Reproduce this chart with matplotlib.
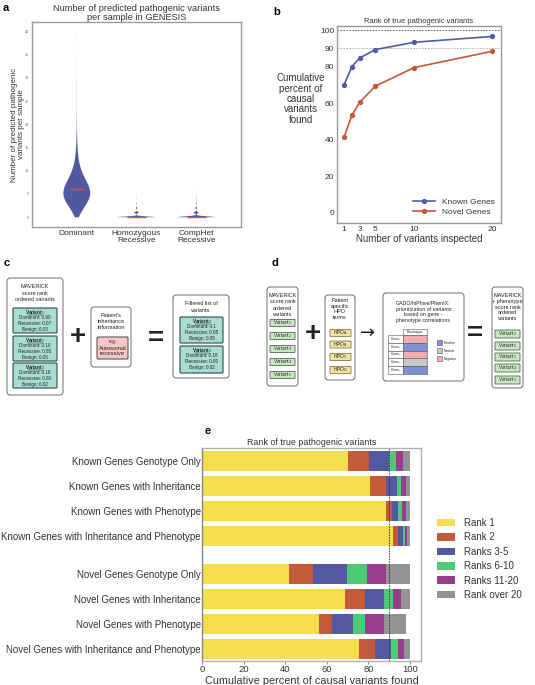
"""
Five-panel figure: violin of variant counts, cumulative rank curves,
two workflow diagrams and a stacked bar of rank categories.
"""

import numpy as np
import matplotlib
matplotlib.use("Agg")
import matplotlib.pyplot as plt
from matplotlib.patches import FancyBboxPatch, Rectangle

plt.rcParams["font.family"] = ["Liberation Sans", "DejaVu Sans"]
plt.rcParams["mathtext.fontset"] = "dejavusans"

TXT = "#333333"
FRAME = "#9a9a9a"

# ---- panel a data: samples per number of predicted pathogenic variants
violin_groups = ["Dominant", "Homozygous\nRecessive", "CompHet\nRecessive"]
dominant_counts = [35, 85, 160, 245, 310, 345, 325, 270, 210, 150, 105, 70, 48,
                   33, 23, 16, 11, 8, 6, 4, 3, 2, 2, 1, 1, 1, 1, 1, 1, 1, 1, 1,
                   0, 1, 0, 1, 0, 0, 1, 0, 1]
homozygous_counts = [2300, 260, 70, 30, 14, 7, 4, 2]
comphet_counts = [2300, 280, 80, 35, 18, 9, 5, 3, 2, 1, 1]

# ---- panel b data
inspected = [1, 2, 3, 5, 10, 20]
known_cum = [70.0, 80.0, 84.7, 89.3, 93.3, 96.5]
novel_cum = [41.3, 53.3, 60.5, 69.3, 79.5, 88.4]

# ---- panel e data (percent of causal variants per rank bin)
scenarios = ["Known Genes Genotype Only",
             "Known Genes with Inheritance",
             "Known Genes with Phenotype",
             "Known Genes with Inheritance and Phenotype",
             "Novel Genes Genotype Only",
             "Novel Genes with Inheritance",
             "Novel Genes with Phenotype",
             "Novel Genes with Inheritance and Phenotype"]
rank_labels = ["Rank 1", "Rank 2", "Ranks 3-5", "Ranks 6-10", "Ranks 11-20", "Rank over 20"]
rank_1 = [70.3, 80.7, 88.4, 91.8, 41.6, 68.8, 56.4, 75.6]
rank_2 = [10.1, 7.6, 2.9, 2.4, 11.8, 9.8, 6.0, 7.5]
rank_3_5 = [9.5, 5.4, 3.1, 2.3, 16.1, 8.9, 10.1, 7.7]
rank_6_10 = [3.3, 2.1, 1.9, 1.1, 9.9, 4.3, 6.0, 3.4]
rank_11_20 = [3.6, 2.3, 1.6, 1.0, 9.3, 4.0, 9.0, 2.9]
rank_over_20 = [3.2, 1.9, 2.1, 1.4, 11.3, 4.2, 10.6, 2.9]
rank_colors = ["#f4dd4f", "#c45a3b", "#5259a0", "#4fc878", "#983c8c", "#939393"]

fig = plt.figure(figsize=(5.35, 6.85), dpi=100)

# ---------------- panel a
ax_a = fig.add_axes([32 / 535, 1 - 227 / 685, 209 / 535, 205 / 685])
samples = [np.repeat(np.arange(len(c)), c) for c in
           (dominant_counts, homozygous_counts, comphet_counts)]
positions = [1, 2, 3]
vp = ax_a.violinplot(samples[:1], positions=positions[:1], widths=0.45,
                     showextrema=False, showmedians=True, points=400, bw_method=0.33)
vp2 = ax_a.violinplot(samples[1:], positions=positions[1:], widths=0.65,
                      showextrema=False, showmedians=True, points=600, bw_method=0.22)
for part in (vp, vp2):
    for body in part["bodies"]:
        body.set_facecolor("#5158a2")
        body.set_edgecolor("none")
        body.set_alpha(1)
    part["cmedians"].set_color("#d4573c")
    part["cmedians"].set_linewidth(1.0)
ax_a.set_xlim(0.25, 3.75)
ax_a.set_ylim(-2.1, 42)
ax_a.set_yticks(range(0, 41, 5))
ax_a.set_xticks(positions)
ax_a.set_xticklabels(violin_groups, fontsize=6, color=TXT, linespacing=1.1)
ax_a.tick_params(axis="y", length=0, labelsize=2.8, labelcolor="#666666", pad=2)
ax_a.tick_params(axis="x", length=0, pad=2)
ax_a.set_ylabel("Number of predicted pathogenic\nvariants per sample", fontsize=5.8,
                color=TXT, linespacing=1.0)
ax_a.yaxis.set_label_coords(-0.035, 0.5)
ax_a.set_title("Number of predicted pathogenic variants\nper sample in GENESIS",
               fontsize=6.7, color=TXT, linespacing=1.0, pad=1)
for sp in ax_a.spines.values():
    sp.set_color(FRAME)
    sp.set_linewidth(1.0)

# ---------------- panel b
ax_b = fig.add_axes([337 / 535, 1 - 223 / 685, 164 / 535, 197 / 685])
ax_b.axhline(100, color="#555555", lw=0.6, ls=(0, (2, 1.5)), zorder=1)
ax_b.axhline(90, color="#aaaaaa", lw=0.6, ls=(0, (2, 1.5)), zorder=1)
ax_b.plot(inspected, known_cum, color="#4f5bab", lw=1.2, marker="o", ms=2.8,
          label="Known Genes")
ax_b.plot(inspected, novel_cum, color="#c9563a", lw=1.2, marker="o", ms=2.8,
          label="Novel Genes")
ax_b.set_xlim(0.1, 21.1)
ax_b.set_ylim(-5.5, 102.2)
ax_b.set_xticks([1, 3, 5, 10, 20])
ax_b.set_yticks([0, 20, 40, 60, 80, 90, 100])
ax_b.tick_params(length=0, labelsize=6, labelcolor=TXT, pad=2)
ax_b.set_title("Rank of true pathogenic variants", fontsize=5.4, color=TXT, pad=2)
ax_b.set_xlabel("Number of variants inspected", fontsize=7, color=TXT, labelpad=1)
ax_b.set_ylabel("Cumulative\npercent of\ncausal\nvariants\nfound", fontsize=7.0,
                color=TXT, rotation=0, ha="center", va="center", linespacing=1.05)
ax_b.yaxis.set_label_coords((301 - 337) / 164, (223 - 99) / 197)
ax_b.legend(loc="lower right", frameon=False, fontsize=6, handlelength=2.6,
            labelspacing=0.35, borderaxespad=0.4, labelcolor=TXT)
for sp in ax_b.spines.values():
    sp.set_color(FRAME)
    sp.set_linewidth(1.0)

# ---------------- panel e
ax_e = fig.add_axes([202 / 535, 1 - 661 / 685, 219 / 535, 213 / 685])
ypos = [0, 1, 2, 3, 4.5, 5.5, 6.5, 7.5]
left = np.zeros(len(scenarios))
for label, vals, col in zip(rank_labels,
                            [rank_1, rank_2, rank_3_5, rank_6_10, rank_11_20, rank_over_20],
                            rank_colors):
    ax_e.barh(ypos, vals, left=left, height=0.8, color=col, label=label, zorder=2)
    left = left + np.array(vals)
ax_e.axvline(90, color="#333333", lw=0.6, ls=(0, (2, 1.2)), zorder=3)
ax_e.set_xlim(0, 105.3)
ax_e.set_ylim(7.98, -0.52)
ax_e.set_yticks(ypos)
ax_e.set_yticklabels(scenarios, fontsize=7.0, color=TXT)
ax_e.set_xticks(range(0, 101, 20))
ax_e.tick_params(axis="y", length=0, pad=0.8)
ax_e.tick_params(axis="x", length=2, width=0.6, color="#777777", labelsize=6.8,
                 labelcolor=TXT, pad=1)
ax_e.set_title("Rank of true pathogenic variants", fontsize=6.4, color=TXT, pad=2)
ax_e.set_xlabel("Cumulative percent of causal variants found", fontsize=7.8,
                color=TXT, labelpad=1)
for sp in ax_e.spines.values():
    sp.set_color("#b0b0b0")
    sp.set_linewidth(1.0)
ax_e.spines["left"].set_color("#888888")
ax_e.legend(loc="center left", bbox_to_anchor=(1.073, 0.479), frameon=False,
            fontsize=7, handlelength=1.85, handleheight=0.8, labelspacing=0.45,
            borderpad=0, borderaxespad=0, handletextpad=0.9, labelcolor=TXT)

# ---------------- diagrams (panels c and d), pixel coordinates
dg = fig.add_axes([0, 0, 1, 1])
dg.set_xlim(0, 535)
dg.set_ylim(685, 0)
dg.axis("off")
dg.set_zorder(-1)


def rbox(x0, y0, x1, y1, fc="white", ec="#555555", lw=0.6, r=3.0):
    dg.add_patch(FancyBboxPatch((x0, y0), x1 - x0, y1 - y0,
                                boxstyle=f"round,pad=0,rounding_size={r}",
                                fc=fc, ec=ec, lw=lw))


def label(x, y, s, size=4.0, **kw):
    dg.text(x, y, s, fontsize=size, ha="center", va="center", color="#222222",
            linespacing=kw.pop("linespacing", 1.35), **kw)


def variant_card(x0, y0, x1, y1, idx, scores):
    rbox(x0, y0, x1, y1, fc="#a9dcd3", ec="#2e4d48", lw=0.8, r=1.0)
    cx = (x0 + x1) / 2
    label(cx, y0 + 4.3, f"Variant$_{idx}$", size=3.4, fontweight="bold")
    dg.plot([cx - 7, cx + 7], [y0 + 6.6, y0 + 6.6], color="#222222", lw=0.35)
    label(cx, y0 + 15.5, "Dominant: %s\nRecessive: %s\nBenign: %s" % scores,
          size=3.3, linespacing=1.15)


for ch, (px, py) in zip("abcde", [(6, 8), (277, 12), (7, 263), (275, 263), (208, 431)]):
    dg.text(px, py, ch, fontsize=8, fontweight="bold", ha="center", va="center")

# panel c
rbox(7, 278, 63, 395)
label(35, 293, "MAVERICK\nscore rank\nordered variants", linespacing=1.4)
variant_card(13, 308, 57, 333, 1, ("0.90", "0.07", "0.03"))
variant_card(13, 336, 57, 361, 2, ("0.10", "0.85", "0.05"))
variant_card(13, 363, 57, 388, 3, ("0.18", "0.80", "0.02"))
label(78, 337, "+", size=20, fontweight="bold")
rbox(91, 307, 131, 367)
label(111, 321, "Patient's\ninheritance\ninformation", linespacing=1.25)
rbox(97, 337, 128, 359, fc="#f6c7c6", ec="#444444", lw=0.7, r=1.0)
label(112.5, 341.5, "e.g.", size=3.4)
label(112.5, 351, "Autosomal\nrecessive", size=4.2, linespacing=1.15)
label(156, 339, "=", size=20, fontweight="bold")
rbox(173, 295, 229, 378)
label(201, 307, "Filtered list of\nvariants", linespacing=1.3)
variant_card(180, 317, 223, 343, 2, ("0.1", "0.85", "0.05"))
variant_card(180, 346, 223, 373, 3, ("0.18", "0.80", "0.02"))

# panel d
rbox(267, 287, 298, 386)
label(282.5, 305, "MAVERICK\nscore rank\nordered\nvariants", linespacing=1.3)
for k, cy in enumerate([323, 336, 349, 362, 375]):
    rbox(270, cy - 3.5, 295, cy + 3.5, fc="#cbe6c4", ec="#4b6b4b", lw=0.6, r=0.5)
    label(282.5, cy, f"Variant$_{k + 1}$", size=3.4)
label(313, 334, "+", size=20, fontweight="bold")
rbox(325, 295, 355, 380)
label(340, 309, "Patient\nspecific\nHPO\nterms", linespacing=1.2)
for tag, cy in zip("ABCD", [333, 344.5, 357, 370]):
    rbox(330, cy - 3.5, 351, cy + 3.5, fc="#f3e3a3", ec="#8b7b3c", lw=0.6, r=0.5)
    label(340.5, cy, f"HPO$_\\mathrm{{{tag}}}$", size=3.6)
label(368, 333, "\u2192", size=13, family="DejaVu Sans")
rbox(383, 293, 464, 381)
label(423.5, 312, "GADO/hiPhive/PhenIX:\nprioritization of variants\nbased on gene -\n"
      "phenotype correlations", size=3.8, linespacing=1.2)
dg.add_patch(Rectangle((403, 329), 24, 6, fc="white", ec="#555555", lw=0.4))
label(415, 332, "Phenotype", size=2.4)
gene_cols = ["#f2adb3", "#7f8fd8", "#f2adb3", "#c9c9c9", "#7f8fd8"]
for k, col in enumerate(gene_cols):
    y0 = 335 + k * 7.8
    dg.add_patch(Rectangle((388, y0), 15, 7.8, fc="white", ec="#555555", lw=0.4))
    dg.add_patch(Rectangle((403, y0), 24, 7.8, fc=col, ec="#555555", lw=0.4))
    label(395.5, y0 + 3.9, f"Gene$_{k + 1}$", size=2.4)
for name, col, cy in zip(["Positive", "Neutral", "Negative"],
                         ["#7f8fd8", "#c9c9c9", "#f2adb3"], [342.5, 350.5, 358.5]):
    dg.add_patch(Rectangle((437, cy - 2.8), 5, 5.6, fc=col, ec="#555555", lw=0.4))
    dg.text(444, cy, name, fontsize=2.4, ha="left", va="center", color="#222222")
label(475, 334, "=", size=20, fontweight="bold")
rbox(492, 287, 523, 388)
label(507.5, 307, "MAVERICK\n+ phenotype\nscore rank\nordered\nvariants", linespacing=1.2)
for k, cy in zip([2, 5, 1, 4, 3], [334, 346, 357, 368, 380]):
    rbox(495, cy - 4, 520, cy + 4, fc="#cbe6c4", ec="#4b6b4b", lw=0.6, r=0.5)
    label(507.5, cy, f"Variant$_{k}$", size=3.4)

fig.savefig("out.png", dpi=100)
